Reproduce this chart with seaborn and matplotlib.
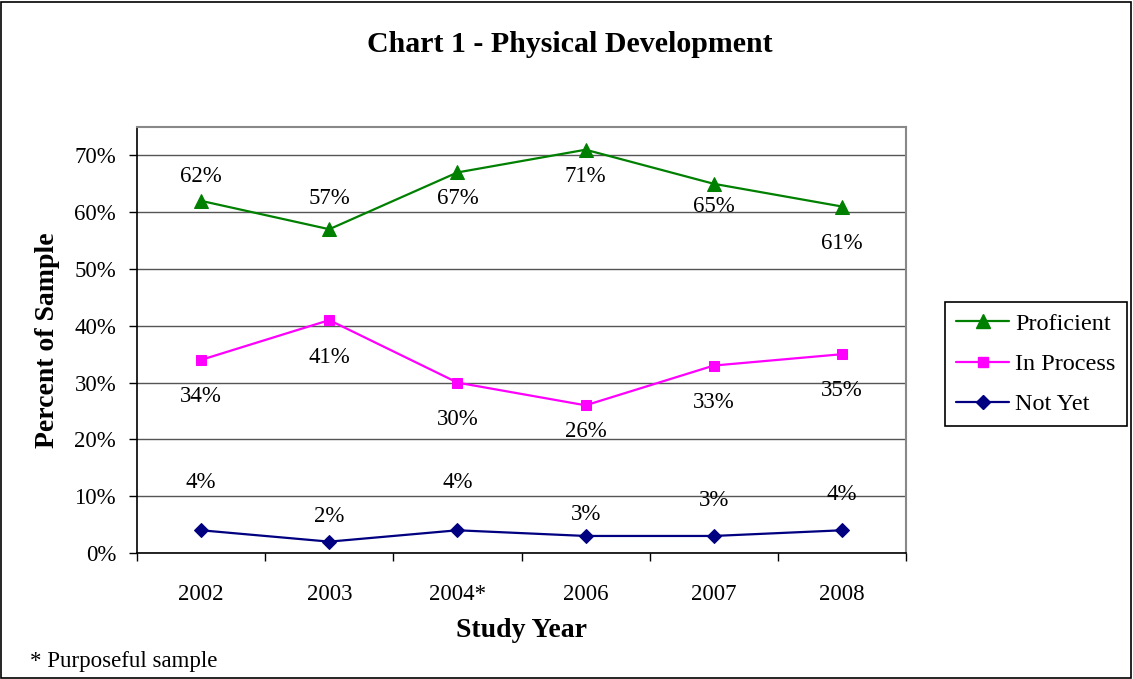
import matplotlib
matplotlib.use("Agg")
import matplotlib.pyplot as plt
import seaborn as sns
import pandas as pd
from matplotlib.patches import Rectangle
from matplotlib.lines import Line2D
from matplotlib.ticker import PercentFormatter, FixedLocator

years = ["2002", "2003", "2004*", "2006", "2007", "2008"]
proficient = [62, 57, 67, 71, 65, 61]
in_process = [34, 41, 30, 26, 33, 35]
not_yet = [4, 2, 4, 3, 3, 4]
series_names = ["Proficient", "In Process", "Not Yet"]

# label offsets (pixels; + is up)
label_dy = {
    "Proficient": [24, 31, -26, -27, -23, -37],
    "In Process": [-37, -37, -37, -26, -37, -36],
    "Not Yet": [48, 25, 48, 21, 35, 36],
}
colors = {"Proficient": "#008000", "In Process": "#FF00FF", "Not Yet": "#000080"}
markers = {"Proficient": "^", "In Process": "s", "Not Yet": "D"}
msizes = {"Proficient": 10, "In Process": 7.5, "Not Yet": 7.5}

rows = []
for name, vals in zip(series_names, [proficient, in_process, not_yet]):
    for y, v in zip(years, vals):
        rows.append({"year": y, "value": v / 100, "series": name})
df = pd.DataFrame(rows)

sns.set_style("white")
plt.rcParams["font.family"] = ["Liberation Serif", "DejaVu Serif"]
plt.rcParams["text.color"] = "black"
plt.rcParams["axes.labelcolor"] = "black"
plt.rcParams["xtick.color"] = "black"
plt.rcParams["ytick.color"] = "black"

W, H = 1133, 679
fig = plt.figure(figsize=(W / 100, H / 100), dpi=100)
fig.patches.append(Rectangle((1 / W, 1 / H), 1 - 3 / W, 1 - 3 / H, transform=fig.transFigure,
                             fill=False, edgecolor="black", linewidth=1.2))
ax = fig.add_axes([137 / W, 1 - 553 / H, (906 - 137) / W, (553 - 127) / H])

for name in series_names:
    sub = df[df.series == name]
    sns.lineplot(data=sub, x="year", y="value", ax=ax, color=colors[name], marker=markers[name],
                 markersize=msizes[name], markeredgecolor=colors[name], linewidth=1.6,
                 sort=False, legend=False)
    for i, (y, v) in enumerate(zip(sub.year, sub.value)):
        ax.annotate(f"{round(v*100)}%", (i, v), xytext=(0, label_dy[name][i] * 0.72),
                    textcoords="offset points", ha="center", va="center", fontsize=16.5,
                    color="black")

ax.set_xlim(-0.5, 5.5)
ax.set_ylim(0, 0.75)
ax.yaxis.set_major_locator(FixedLocator([0, .1, .2, .3, .4, .5, .6, .7]))
ax.yaxis.set_major_formatter(PercentFormatter(1.0, decimals=0))
ax.set_xticks(range(len(years)))
ax.set_xticklabels(years)
ax.set_xticks([i - 0.5 for i in range(len(years) + 1)], minor=True)
ax.tick_params(axis="x", which="major", length=0, pad=22, labelsize=16.5)
ax.tick_params(axis="x", which="minor", length=6, width=1, direction="out", color="black", bottom=True)
ax.tick_params(axis="y", length=6, width=1, direction="out", color="black", left=True,
               labelsize=16.5, pad=9)
ax.grid(axis="y", color="#555555", linewidth=1)
ax.grid(axis="x", visible=False)
for s in ["top", "right"]:
    ax.spines[s].set_color("#888888")
    ax.spines[s].set_linewidth(1.5)
for s in ["left", "bottom"]:
    ax.spines[s].set_color("black")
    ax.spines[s].set_linewidth(1.2)

ax.set_xlabel("Study Year", fontsize=20, fontweight="bold", labelpad=10)
ax.set_ylabel("Percent of Sample", fontsize=20, fontweight="bold", labelpad=10)
fig.text(570 / W, 1 - 45 / H, "Chart 1 - Physical Development", ha="center", va="center",
         fontsize=21.5, fontweight="bold")
fig.text(30 / W, 1 - 662 / H, "* Purposeful sample", ha="left", va="center", fontsize=16.5)

handles = [Line2D([], [], color=colors[n], marker=markers[n], markersize=msizes[n], linewidth=1.6)
           for n in series_names]
leg = fig.legend(handles, series_names, loc="upper left",
                 bbox_to_anchor=(945 / W, 1 - 302 / H), fontsize=17.5, frameon=True,
                 fancybox=False, edgecolor="black", framealpha=1, borderpad=0.45,
                 handlelength=2.2, handletextpad=0.25, labelspacing=0.75, borderaxespad=0)
leg.get_frame().set_linewidth(1.2)

fig.savefig("out.png", dpi=100)
